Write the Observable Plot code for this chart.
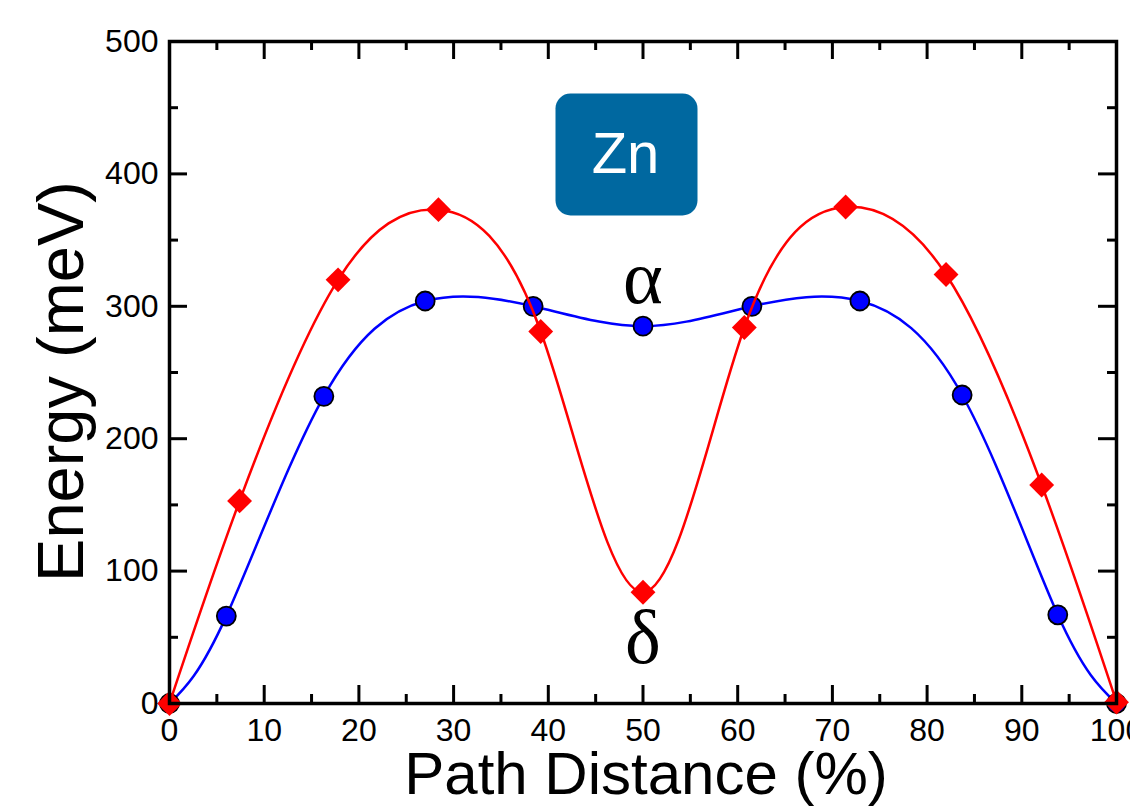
<!DOCTYPE html>
<html>
<head>
<meta charset="utf-8">
<script src="https://cdn.jsdelivr.net/npm/d3@7"></script>
<script src="https://cdn.jsdelivr.net/npm/@observablehq/plot@0.6"></script>
<style>
  html, body { margin: 0; padding: 0; background: white; overflow: hidden; }
</style>
</head>
<body>
<div id="chart"></div>
<script>
// Data
const alphaX = [0, 6.0, 16.3, 27.0, 38.4, 50.0, 61.5, 72.9, 83.7, 93.8, 100];
const alphaY = [0, 66, 232, 304, 300, 285, 300, 304, 233, 67, 0];
const deltaX = [0, 7.4, 17.8, 28.4, 39.2, 50.0, 60.7, 71.4, 82.0, 92.1, 100];
const deltaY = [0, 153, 320, 373, 281, 84, 284, 375, 324, 165, 1];

const xMajor = [0, 10, 20, 30, 40, 50, 60, 70, 80, 90, 100];
const xMinor = [5, 15, 25, 35, 45, 55, 65, 75, 85, 95];
const yMajor = [0, 100, 200, 300, 400, 500];
const yMinor = [50, 150, 250, 350, 450];

const xTitle = "Path Distance (%)";
const yTitle = "Energy (meV)";
const badgeText = "Zn";
const phaseLabels = ["α", "δ"];
const phaseAt = [50, 50];

const alpha = alphaX.map((x, i) => ({x, y: alphaY[i]}));
const delta = deltaX.map((x, i) => ({x, y: deltaY[i]}));

const W = 1130, H = 812;
const mL = 169, mR = 14, mT = 41, mB = 109;
const fw = W - mL - mR, fh = H - mT - mB;
const majorLen = 18, minorLen = 9;
const sans = "'Liberation Sans', Arial, Helvetica, sans-serif";
const serif = "'Liberation Serif', 'Times New Roman', serif";

const chart = Plot.plot({
  width: W,
  height: H,
  marginLeft: mL,
  marginRight: mR,
  marginTop: mT,
  marginBottom: mB,
  style: {fontFamily: sans, background: "white", color: "black", overflow: "visible"},
  x: {domain: [0, 100], axis: null},
  y: {domain: [0, 500], axis: null},
  marks: [
    // Zn badge
    Plot.frame({fill: "#0068a0", stroke: null, rx: 15,
      insetLeft: 386, insetRight: fw - 528, insetTop: 52, insetBottom: fh - 174}),
    Plot.text([badgeText], {frameAnchor: "top-left", dx: 456, dy: 131, lineAnchor: "bottom",
      textAnchor: "middle", fill: "white", fontSize: 58, fontFamily: sans}),

    // series
    Plot.line(alpha, {x: "x", y: "y", curve: "natural", stroke: "#0000ff", strokeWidth: 2.5}),
    Plot.dot(alpha, {x: "x", y: "y", r: 9.5, fill: "#0000ff", stroke: "black", strokeWidth: 1.8}),
    Plot.line(delta, {x: "x", y: "y", curve: "natural", stroke: "#ff0000", strokeWidth: 2.5}),
    Plot.dot(delta, {x: "x", y: "y", symbol: "diamond2", r: 11.2, fill: "#ff0000", stroke: null}),

    // phase labels
    Plot.text([0], {x: () => phaseAt[0], y: () => alphaY[5], text: () => phaseLabels[0],
      dy: -23, lineAnchor: "bottom", fontSize: 76, fontFamily: serif, fill: "black"}),
    Plot.text([0], {x: () => phaseAt[1], y: () => deltaY[5], text: () => phaseLabels[1],
      dy: 71, lineAnchor: "bottom", fontSize: 76, fontFamily: serif, fill: "black"}),

    // frame and inward ticks
    Plot.tickX(xMajor, {x: d => d, insetTop: fh - majorLen, stroke: "black", strokeWidth: 3}),
    Plot.tickX(xMinor, {x: d => d, insetTop: fh - minorLen, stroke: "black", strokeWidth: 3}),
    Plot.tickX(xMajor, {x: d => d, insetBottom: fh - majorLen, stroke: "black", strokeWidth: 3}),
    Plot.tickX(xMinor, {x: d => d, insetBottom: fh - minorLen, stroke: "black", strokeWidth: 3}),
    Plot.tickY(yMajor, {y: d => d, insetRight: fw - majorLen, stroke: "black", strokeWidth: 3}),
    Plot.tickY(yMinor, {y: d => d, insetRight: fw - minorLen, stroke: "black", strokeWidth: 3}),
    Plot.tickY(yMajor, {y: d => d, insetLeft: fw - majorLen, stroke: "black", strokeWidth: 3}),
    Plot.tickY(yMinor, {y: d => d, insetLeft: fw - minorLen, stroke: "black", strokeWidth: 3}),
    Plot.frame({stroke: "black", strokeWidth: 3.5}),

    // tick labels
    Plot.text(xMajor, {x: d => d, text: d => String(d), frameAnchor: "bottom", dy: 15,
      lineAnchor: "top", textAnchor: "middle", fontSize: 32, fontFamily: sans, fill: "black"}),
    Plot.text(yMajor, {y: d => d, text: d => String(d), frameAnchor: "left", dx: -11,
      lineAnchor: "middle", textAnchor: "end", fontSize: 32, fontFamily: sans, fill: "black"}),

    // axis titles
    Plot.text([xTitle], {frameAnchor: "bottom", dx: 3, dy: 90, lineAnchor: "bottom",
      textAnchor: "middle", fontSize: 60, fontFamily: sans, fill: "black"}),
    Plot.text([yTitle], {frameAnchor: "left", dx: -87, dy: 9, rotate: -90, lineAnchor: "bottom",
      textAnchor: "middle", fontSize: 65, fontFamily: sans, fill: "black"})
  ]
});
document.getElementById("chart").appendChild(chart);
</script>
</body>
</html>
